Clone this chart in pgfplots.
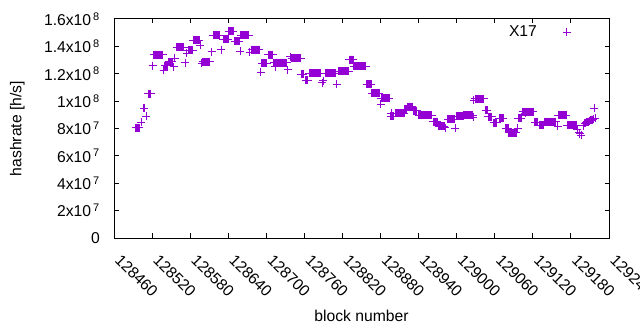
\documentclass[border=0pt]{standalone}
\usepackage{fontspec}
\setmainfont{Liberation Sans}
\usepackage{pgfplots}
\pgfplotsset{compat=1.18}
\definecolor{gpviolet}{RGB}{148,0,211}
\begin{document}
\fontsize{15.7bp}{18bp}\selectfont
\begin{tikzpicture}
\begin{axis}[
  at={(114bp,92bp)}, anchor=south west,
  scale only axis, width=495bp, height=219bp,
  xmin=0, xmax=780, ymin=0, ymax=16,
  xtick={0,60,...,780},
  xticklabels={128460,128520,128580,128640,128700,128760,128820,128880,128940,129000,129060,129120,129180,129240},
  xticklabel style={yshift=-15bp, xshift=8bp, anchor=north west, rotate=-45, inner sep=0pt},
  ytick={0,2,...,16},
  yticklabels={0,{2x10\kern2bp\textsuperscript{7}},{4x10\kern2bp\textsuperscript{7}},{6x10\kern2bp\textsuperscript{7}},{8x10\kern2bp\textsuperscript{7}},{1x10\kern2bp\textsuperscript{8}},{1.2x10\kern2bp\textsuperscript{8}},{1.4x10\kern2bp\textsuperscript{8}},{1.6x10\kern2bp\textsuperscript{8}}},
  yticklabel style={xshift=-14bp, anchor=east, inner sep=0pt},
  tick align=inside,
  major tick length=4.5bp,
  every tick/.style={black, line width=1bp},
  axis line style={black, line width=1bp},
  xlabel={block number},
  ylabel={hashrate [h/s]},
  every axis x label/.style={at={(axis description cs:0.5,0)}, anchor=base, yshift=-83.7bp},
  every axis y label/.style={at={(axis description cs:0,0.5)}, xshift=-92.5bp, anchor=base, rotate=90},
  legend plot pos=right,
  legend style={draw=none, fill=none, at={(rel axis cs:0.972,0.9406)}, anchor=east, inner sep=0pt},
  legend image code/.code={\path[draw=none,fill=none] (0bp,0bp) -- (56bp,0bp);\draw[mark repeat=2,mark phase=2] plot coordinates {(0bp,0bp)(28bp,0bp)(56bp,0bp)};},
]
\addplot[only marks, mark=+, mark size=4bp, color=gpviolet, mark options={line width=1bp}] coordinates {
(34,8.05)(35,8.05)(36,8.05)(37,8.05)(38,8.05)(39,8.05)(40,8.05)
(43,8.45)
(47,9.47)(48,9.47)
(51,8.9)
(54,10.55)(55,10.55)(56,10.55)(57,10.55)(58,10.55)
(61,12.6)
(63,13.4)(64,13.4)(65,13.4)(66,13.4)(67,13.4)(68,13.4)(69,13.4)(70,13.4)(71,13.4)(72,13.4)(73,13.4)(74,13.4)(75,13.4)(76,13.4)(77,13.4)
(78,12.25)
(80,12.6)(81,12.6)(82,12.6)(83,12.6)(84,12.6)(85,12.6)
(86,12.87)(87,12.87)(88,12.87)(89,12.87)(90,12.87)(91,12.87)(92,12.87)
(94,12.5)
(96,13.15)
(99,13.92)(100,13.92)(101,13.92)(102,13.92)(103,13.92)(104,13.92)(105,13.92)(106,13.92)(107,13.92)(108,13.92)(109,13.92)(110,13.92)
(112,12.82)
(115,13.48)
(117,13.72)(118,13.72)(119,13.72)(120,13.72)(121,13.72)(122,13.72)(123,13.72)(124,13.72)
(125,14.45)(126,14.45)(127,14.45)(128,14.45)(129,14.45)(130,14.45)(131,14.45)(132,14.45)(133,14.45)(134,14.45)
(136,14.09)
(138,12.75)
(140,12.87)(141,12.87)(142,12.87)(143,12.87)(144,12.87)(145,12.87)(146,12.87)(147,12.87)(148,12.87)(149,12.87)(150,12.87)(151,12.87)
(154,13.6)
(156,14.82)(157,14.82)(158,14.82)(159,14.82)(160,14.82)(161,14.82)(162,14.82)(163,14.82)(164,14.82)(165,14.82)(166,14.82)(167,14.82)
(169,13.77)
(172,14.53)(173,14.53)(174,14.53)(175,14.53)(176,14.53)(177,14.53)(178,14.53)(179,14.53)(180,14.53)
(181,15.11)(182,15.11)(183,15.11)(184,15.11)(185,15.11)(186,15.11)(187,15.11)(188,15.11)
(190,14.36)(191,14.36)(192,14.36)(193,14.36)(194,14.36)(195,14.36)(196,14.36)(197,14.36)
(199,13.65)
(200,14.8)(201,14.8)(202,14.8)(203,14.8)(204,14.8)(205,14.8)(206,14.8)(207,14.8)(208,14.8)(209,14.8)(210,14.8)(211,14.8)(212,14.8)
(214,13.58)
(217,13.77)(218,13.77)(219,13.77)(220,13.77)(221,13.77)(222,13.77)(223,13.77)(224,13.77)(225,13.77)(226,13.77)(227,13.77)(228,13.77)(229,13.77)
(231,12.1)
(233,12.75)(234,12.75)(235,12.75)(236,12.75)(237,12.75)(238,12.75)(239,12.75)(240,12.75)(241,12.75)
(243,13.4)(244,13.4)(245,13.4)(246,13.4)(247,13.4)(248,13.4)(249,13.4)(250,13.4)
(252,12.82)(253,12.82)(254,12.82)(255,12.82)(256,12.82)(257,12.82)(258,12.82)(259,12.82)(260,12.82)(261,12.82)(262,12.82)(263,12.82)(264,12.82)(265,12.82)(266,12.82)(267,12.82)(268,12.82)(269,12.82)(270,12.82)(271,12.82)(272,12.82)
(254,12.5)
(274,12.31)
(278,13.24)
(280,13.12)(281,13.12)(282,13.12)(283,13.12)(284,13.12)(285,13.12)(286,13.12)(287,13.12)(288,13.12)(289,13.12)(290,13.12)(291,13.12)(292,13.12)(293,13.12)(294,13.12)
(295,11.97)(296,11.97)(297,11.97)(298,11.97)
(302,11.53)(303,11.53)(304,11.53)(305,11.53)
(308,12.02)(309,12.02)(310,12.02)(311,12.02)(312,12.02)(313,12.02)(314,12.02)(315,12.02)(316,12.02)(317,12.02)(318,12.02)(319,12.02)(320,12.02)(321,12.02)(322,12.02)(323,12.02)(324,12.02)(325,12.02)(326,12.02)
(328,11.34)(330,11.5)
(333,12.02)(334,12.02)(335,12.02)(336,12.02)(337,12.02)(338,12.02)(339,12.02)(340,12.02)(341,12.02)(342,12.02)(343,12.02)(344,12.02)(345,12.02)(346,12.02)(347,12.02)(348,12.02)(349,12.02)
(351,11.24)
(353,12.17)(354,12.17)(355,12.17)(356,12.17)(357,12.17)(358,12.17)(359,12.17)(360,12.17)(361,12.17)(362,12.17)(363,12.17)(364,12.17)(365,12.17)(366,12.17)(367,12.17)(368,12.17)(369,12.17)(370,12.17)
(371,13.04)(372,13.04)(373,13.04)(374,13.04)(375,13.04)(376,13.04)(377,13.04)
(378,12.53)(379,12.53)(380,12.53)(381,12.53)(382,12.53)(383,12.53)(384,12.53)(385,12.53)(386,12.53)(387,12.53)(388,12.53)(389,12.53)(390,12.53)(391,12.53)(392,12.53)(393,12.53)(394,12.53)(395,12.53)(396,12.53)(397,12.53)
(398,11.24)(399,11.24)(400,11.24)(401,11.24)(402,11.24)(403,11.24)(404,11.24)(405,11.24)
(406,10.56)(407,10.56)(408,10.56)(409,10.56)(410,10.56)(411,10.56)(412,10.56)(413,10.56)(414,10.56)(415,10.56)(416,10.56)(417,10.56)(418,10.56)
(420,9.76)
(421,10.2)(422,10.2)(423,10.2)(424,10.2)(425,10.2)(426,10.2)(427,10.2)(428,10.2)(429,10.2)(430,10.2)(431,10.2)(432,10.2)(433,10.2)(434,10.2)
(437,9.1)
(436,8.9)(437,8.9)(438,8.9)(439,8.9)(440,8.9)(441,8.9)
(443,9.1)(444,9.1)(445,9.1)(446,9.1)(447,9.1)(448,9.1)(449,9.1)(450,9.1)(451,9.1)(452,9.1)(453,9.1)(454,9.1)(455,9.1)(456,9.1)(457,9.1)
(458,9.4)(459,9.4)(460,9.4)(461,9.4)
(463,9.59)(464,9.59)(465,9.59)(466,9.59)(467,9.59)(468,9.59)(469,9.59)(470,9.59)
(472,9.3)(473,9.3)(474,9.3)(475,9.3)(476,9.3)(477,9.3)
(480,8.96)(481,8.96)(482,8.96)(483,8.96)(484,8.96)(485,8.96)(486,8.96)(487,8.96)(488,8.96)(489,8.96)(490,8.96)(491,8.96)(492,8.96)(493,8.96)(494,8.96)(495,8.96)(496,8.96)(497,8.96)(498,8.96)(499,8.96)(500,8.96)(501,8.96)
(503,8.49)(504,8.49)(505,8.49)(506,8.49)(507,8.49)(508,8.49)(509,8.49)
(512,8.16)(513,8.16)(514,8.16)(515,8.16)(516,8.16)(517,8.16)(518,8.16)(519,8.16)(520,8.16)
(522,8.05)
(526,8.66)(527,8.66)(528,8.66)(529,8.66)(530,8.66)(531,8.66)(532,8.66)(533,8.66)(534,8.66)(535,8.66)(536,8.66)(537,8.66)
(538,8.0)
(539,8.91)(540,8.91)(541,8.91)(542,8.91)(543,8.91)(544,8.91)(545,8.91)(546,8.91)(547,8.91)(548,8.91)(549,8.91)(550,8.91)
(551,8.96)(552,8.96)(553,8.96)(554,8.96)(555,8.96)(556,8.96)(557,8.96)(558,8.96)(559,8.96)(560,8.96)(561,8.96)(562,8.96)(563,8.96)(564,8.96)(565,8.96)
(566,8.81)
(567,10.07)
(569,10.17)(570,10.17)(571,10.17)(572,10.17)(573,10.17)(574,10.17)(575,10.17)(576,10.17)(577,10.17)(578,10.17)(579,10.17)(580,10.17)(581,10.17)(582,10.17)(583,10.17)
(586,9.34)(587,9.34)(588,9.34)
(590,8.86)(591,8.86)(592,8.86)(593,8.86)(594,8.86)(595,8.86)
(598,8.42)(599,8.42)(600,8.42)(601,8.42)(602,8.42)(603,8.42)
(607,8.74)(608,8.74)(609,8.74)(610,8.74)(611,8.74)(612,8.74)(613,8.74)
(617,8.0)(618,8.0)(619,8.0)(620,8.0)(621,8.0)
(622,7.7)(623,7.7)(624,7.7)(625,7.7)(626,7.7)(627,7.7)(628,7.7)(629,7.7)(630,7.7)(631,7.7)(632,7.7)(633,7.7)(634,7.7)
(636,8.0)
(637,8.74)(638,8.74)(639,8.74)(640,8.74)(641,8.74)(642,8.74)
(644,9.22)(645,9.22)(646,9.22)(647,9.22)(648,9.1)(649,9.22)(650,9.22)(651,9.22)(652,9.22)(653,9.22)(654,9.22)(655,9.22)(656,9.22)(657,9.22)(658,9.22)(659,9.22)(660,9.22)(661,9.22)
(663,8.45)(664,8.45)(665,8.45)(666,8.45)(667,8.45)(668,8.45)
(671,8.25)(672,8.25)(673,8.25)(674,8.25)(675,8.25)(676,8.25)(677,8.25)
(679,8.49)(680,8.49)(681,8.49)(682,8.49)(683,8.49)(684,8.49)(685,8.49)(686,8.49)(687,8.49)(688,8.49)(689,8.49)(690,8.49)(691,8.49)(692,8.49)(693,8.49)(694,8.49)(695,8.49)(696,8.49)
(699,8.15)
(700,8.95)(701,8.95)(702,8.95)(703,8.95)(704,8.95)(705,8.95)(706,8.95)(707,8.95)(708,8.95)(709,8.95)(710,8.95)(711,8.95)(712,8.95)(713,8.95)
(714,8.24)(715,8.24)(716,8.24)(717,8.24)(718,8.24)(719,8.24)(720,8.24)(721,8.24)(722,8.24)(723,8.24)(724,8.24)(725,8.24)(726,8.24)(727,8.24)(728,8.24)
(730,7.9)
(733,7.7)(734,7.6)(736,7.52)
(740,8.2)
(742,8.4)(743,8.4)(744,8.45)(745,8.45)(746,8.5)(747,8.5)(748,8.5)
(749,8.58)(750,8.58)(751,8.62)(752,8.62)(753,8.65)(754,8.65)(755,8.7)
(757,9.47)
(758,8.74)
};
\addlegendentry{X17}
\end{axis}
\pgfresetboundingbox
\path[use as bounding box] (0bp,0bp) rectangle (640bp,330bp);
\end{tikzpicture}
\end{document}
